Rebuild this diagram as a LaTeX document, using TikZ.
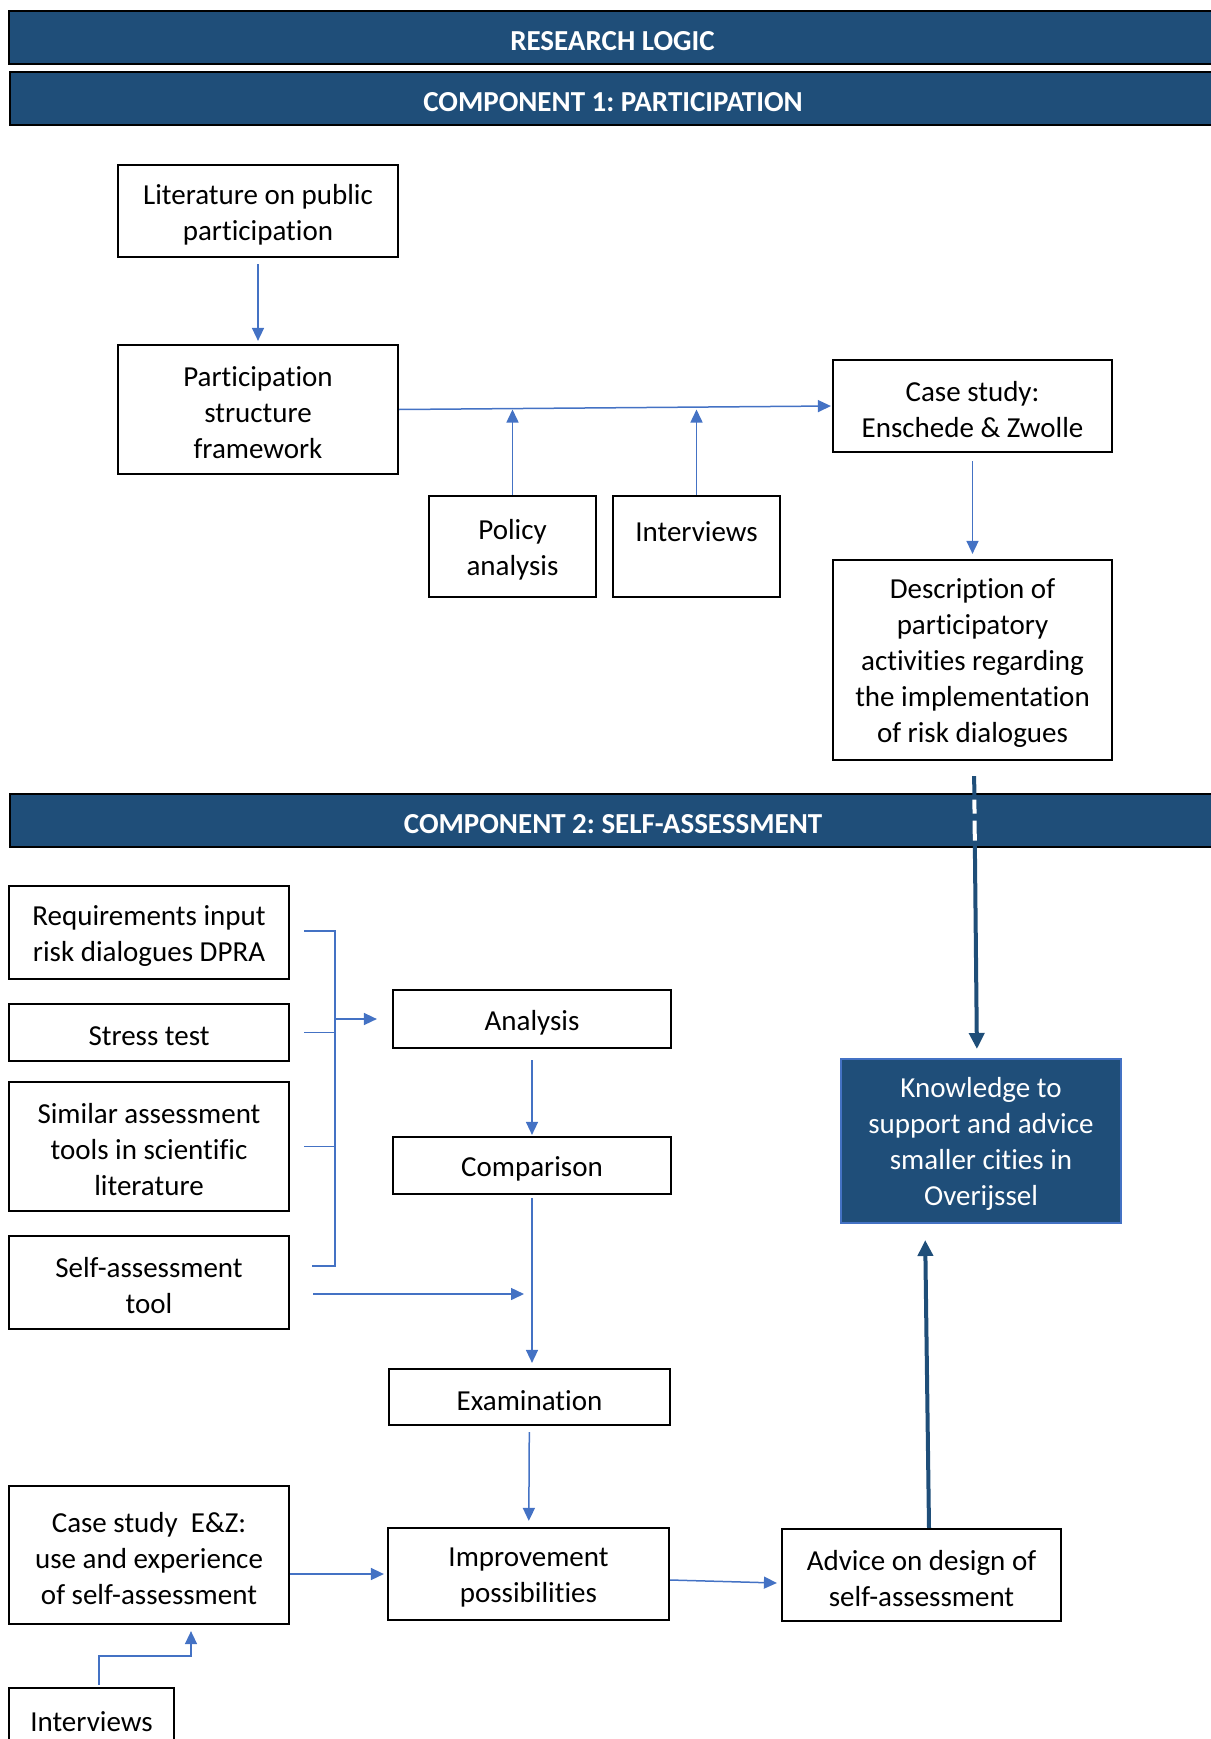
\documentclass[tikz,border=0pt]{standalone}
\usepackage{fontspec}
\setmainfont{Carlito}[Ligatures=NoCommon]
\usetikzlibrary{arrows.meta,calc}
\definecolor{navy}{HTML}{1F4E79}
\definecolor{linkblue}{HTML}{4472C4}
\frenchspacing

\begin{document}
\begin{tikzpicture}[x=0.5pt,y=-0.5pt,
  font=\fontsize{14.5}{18}\selectfont,
  txt/.style={align=center, inner sep=0pt, yshift=-1.65pt},
  box/.style={draw=black, line width=1.1pt, fill=white, inner sep=0pt},
  banner/.style={draw=black, line width=1pt, fill=navy,
    minimum width=603.5pt, minimum height=26.5pt, inner sep=0pt},
  bannertxt/.style={txt, text=white, font=\fontsize{14.5}{18}\selectfont\bfseries},
  goal/.style={draw=linkblue, line width=1pt, fill=navy, inner sep=0pt},
  goaltxt/.style={txt, text=white},
  flow/.style={draw=linkblue, line width=0.75pt},
  flowarrow/.style={flow, -{Triangle[length=6.5pt,width=6pt]}},
  navyarrow/.style={draw=navy, line width=2pt, -{Triangle[length=8pt,width=7.5pt]}}]

\useasboundingbox (0,0) rectangle (1210,1739);

% section banners
\node[banner, label={[bannertxt]center:{RESEARCH LOGIC}}] (banner0) at (612.5,37.5) {};
\node[banner, label={[bannertxt]center:{COMPONENT 1: PARTICIPATION}}] (banner1) at (613,98.5) {};
\node[banner, label={[bannertxt]center:{COMPONENT 2: SELF-ASSESSMENT}}] (banner2) at (613,820.5) {};

% component 1
\node[box, minimum width=140pt, minimum height=46pt,
  label={[txt]center:{Literature on public\\participation}}] (lit) at (258,211) {};
\node[box, minimum width=140pt, minimum height=64.5pt,
  label={[txt]center:{Participation\\structure\\framework}}] (psf) at (258,409.5) {};
\node[box, minimum width=139.5pt, minimum height=46pt,
  label={[txt]center:{Case study:\\Enschede \& Zwolle}}] (case1) at (972.5,406) {};
\node[box, minimum width=83.5pt, minimum height=50.5pt,
  label={[txt]center:{Policy\\analysis}}] (policy) at (512.5,546.5) {};
\node[box, minimum width=83.5pt, minimum height=50.5pt,
  label={[txt]center:{Interviews\\\mbox{}}}] (int1) at (696.5,546.5) {};
\node[box, minimum width=139.5pt, minimum height=100pt,
  label={[txt]center:{Description of\\participatory\\activities regarding\\the implementation\\of risk dialogues}}] (desc) at (972.5,660) {};

% component 2
\node[box, minimum width=140pt, minimum height=46.5pt,
  label={[txt]center:{Requirements input\\risk dialogues DPRA}}] (req) at (149,932.5) {};
\node[box, minimum width=140pt, minimum height=28.5pt,
  label={[txt]center:{Stress test}}] (stress) at (149,1032.5) {};
\node[box, minimum width=140pt, minimum height=64.5pt,
  label={[txt]center:{Similar assessment\\tools in scientific\\literature}}] (similar) at (149,1146.5) {};
\node[box, minimum width=140pt, minimum height=46.5pt,
  label={[txt]center:{Self-assessment\\tool}}] (selfat) at (149,1282.5) {};
\node[box, minimum width=139pt, minimum height=29pt,
  label={[txt]center:{Analysis}}] (analysis) at (532,1019) {};
\node[box, minimum width=139pt, minimum height=28.5pt,
  label={[txt]center:{Comparison}}] (comparison) at (532,1165.5) {};
\node[box, minimum width=140.5pt, minimum height=28pt,
  label={[txt]center:{Examination}}] (exam) at (529.5,1397) {};
\node[box, minimum width=140.5pt, minimum height=46pt,
  label={[txt]center:{Improvement\\possibilities}}] (improve) at (528.5,1574) {};
\node[box, minimum width=140pt, minimum height=69pt,
  label={[txt]center:{Case study~ E\&Z:\\use and experience\\of self-assessment}}] (caseEZ) at (149,1555) {};
\node[box, minimum width=139.5pt, minimum height=46pt,
  label={[txt]center:{Advice on design of\\self-assessment}}] (advice) at (921.5,1575) {};
\node[box, minimum width=82.5pt, minimum height=48pt,
  label={[txt]center:{Interviews\\\mbox{}}}] (int2) at (91.5,1736) {};
\node[goal, minimum width=140pt, minimum height=82pt,
  label={[goaltxt]center:{Knowledge to\\support and advice\\smaller cities in\\Overijssel}}] (knowledge) at (981,1141) {};

% connectors, component 1
\draw[flowarrow, shorten <=3pt, shorten >=1.5pt] (lit) -- (psf);
\draw[flowarrow, shorten >=0.5pt] (psf.east) -- (case1.west);
\draw[flowarrow] (policy.north) -- (policy.north |- psf.east);
\draw[flowarrow] (int1.north) -- (int1.north |- psf.east);
\draw[flowarrow, shorten <=4pt, shorten >=2.5pt] (case1) -- (desc);

% link between the two components
\coordinate (dstart) at ($(desc.south)+(1.5,0)$);
\coordinate (kend) at ($(knowledge.north)+(-4,0)$);
\draw[navyarrow, shorten <=7.5pt, shorten >=4.5pt] (dstart) -- (kend);
\draw[white, line width=2pt, dash pattern=on 7pt off 3.5pt on 10pt off 3.5pt]
  ($(dstart)!0.13!(kend)$) -- ($(dstart)!0.28!(kend)$);

% inputs bracket towards the analysis
\coordinate (bx) at ($(req.east)+(45,0)$);
\draw[flow] ($(req.east)+(14,-1.5)$) -| ($(selfat.east)+(45,-16.5)$) -- ($(selfat.east)+(22,-16.5)$);
\draw[flow] ($(stress.east)+(14,0)$) -- ($(stress.east)+(45,0)$);
\draw[flow] ($(similar.east)+(14,0)$) -- ($(similar.east)+(45,0)$);
\draw[flowarrow] (analysis.west -| bx) -- ($(analysis.west)+(-15,0)$);

% analysis chain
\draw[flowarrow, shorten <=5.5pt, shorten >=0.5pt] (analysis) -- (comparison);
\draw[flowarrow, shorten <=1.5pt, shorten >=2.5pt] (comparison.south) -- (comparison.south |- exam.north);
\draw[flowarrow] ($(selfat.east)+(23,11.5)$) -- ($(comparison.south |- selfat.east)+(-8,11.5)$);
\draw[flowarrow, shorten <=3pt, shorten >=3pt] (exam) -- (improve);
\draw[flowarrow, shorten >=1.5pt] (caseEZ.east |- improve.west) -- (improve.west);
\draw[flowarrow] ($(improve.east)+(0,6)$) -- ($(advice.west)+(-4,8)$);
\draw[navyarrow, shorten >=8pt] ($(advice.north)+(7.5,0)$) -- ($(knowledge.south)+(-56,0)$);
\draw[flowarrow] ($(int2.north)+(7.5,-2)$) -- ++(0,-29) -| ($(caseEZ.south)+(42,6)$);

\end{tikzpicture}
\end{document}
